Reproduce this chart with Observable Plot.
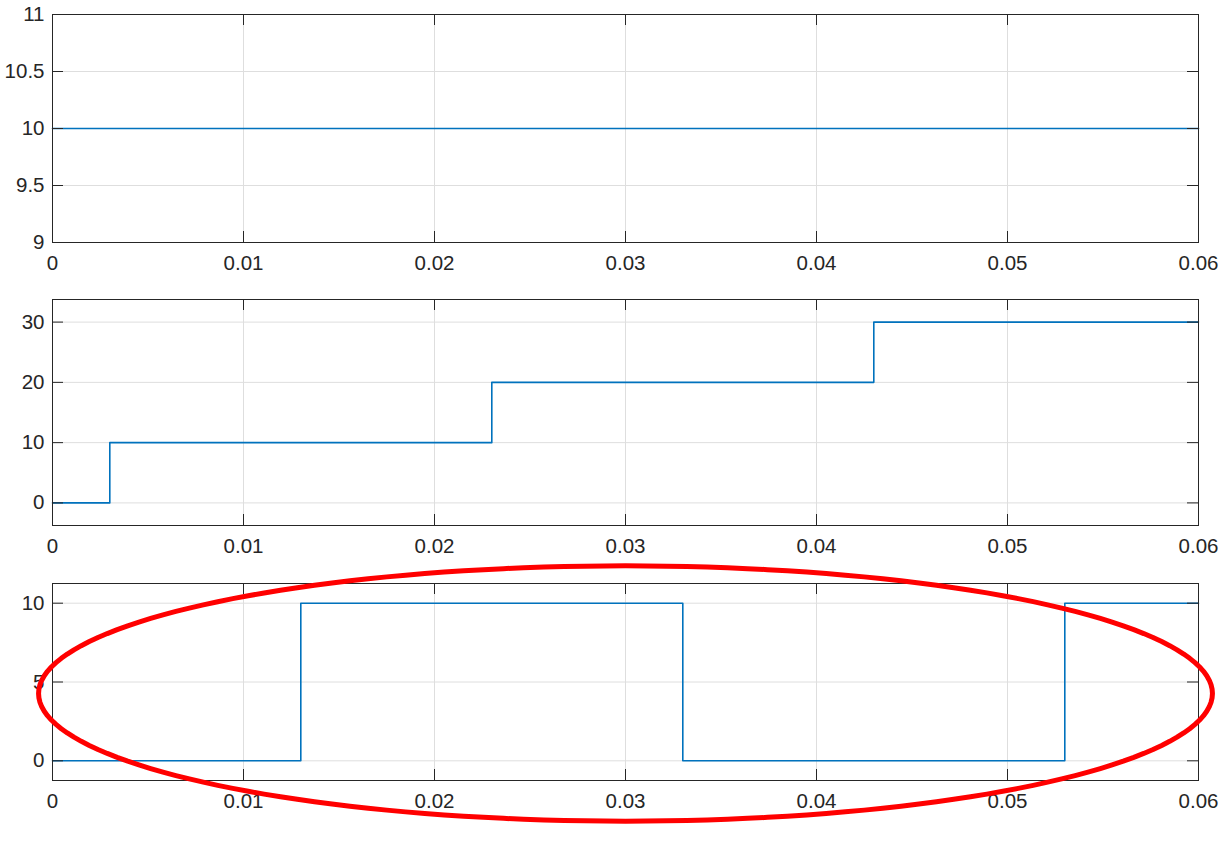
<!DOCTYPE html>
<html>
<head>
<meta charset="utf-8">
<script src="https://cdn.jsdelivr.net/npm/d3@7"></script>
<script src="https://cdn.jsdelivr.net/npm/@observablehq/plot@0.6"></script>
<style>
  html, body { margin: 0; padding: 0; background: #fff; }
  #wrap { position: relative; width: 1231px; height: 854px; overflow: hidden; }
  .panel { position: absolute; left: 0; }
  .panel svg { overflow: visible; background: transparent !important; }
</style>
</head>
<body>
<div id="wrap"></div>
<script>
// ---- data ----
const xTicks = [0, 0.01, 0.02, 0.03, 0.04, 0.05, 0.06];
const xTickLabels = ["0", "0.01", "0.02", "0.03", "0.04", "0.05", "0.06"];

const t1 = [0, 0.06];
const v1 = [10, 10];
const y1Ticks = [9, 9.5, 10, 10.5, 11];
const y1TickLabels = ["9", "9.5", "10", "10.5", "11"];

const t2 = [0, 0.003, 0.023, 0.043, 0.06];
const v2 = [0, 10, 20, 30, 30];
const y2Ticks = [0, 10, 20, 30];
const y2TickLabels = ["0", "10", "20", "30"];

const t3 = [0, 0.013, 0.033, 0.053, 0.06];
const v3 = [0, 10, 0, 10, 10];
const y3Ticks = [0, 5, 10];
const y3TickLabels = ["0", "5", "10"];

// red annotation ellipse (data coordinates of panel 3)
const ellipseCx = 0.03, ellipseCy = 4.27, ellipseRx = 0.03073, ellipseRy = 8.1;

// ---- styling ----
const W = 1231;
const lineColor = "#0072BD";
const axisColor = "#262626";
const gridColor = "#dedede";
const font = "'Liberation Sans', Arial, Helvetica, sans-serif";
const tickLen = 11;

function panel({top, height, marginTop, marginBottom, t, v, yDomain, yTicks, yLabels, extra = []}) {
  const data = t.map((x, i) => ({x, y: v[i]}));
  const [ymin, ymax] = yDomain;
  const plot = Plot.plot({
    width: W,
    height,
    marginLeft: 52,
    marginRight: 33,
    marginTop,
    marginBottom,
    style: {fontFamily: font, fontSize: "20.5px", color: axisColor, background: "transparent", overflow: "visible"},
    x: {domain: [0, 0.06]},
    y: {domain: yDomain},
    marks: [
      Plot.gridX(xTicks, {stroke: gridColor, strokeOpacity: 1}),
      Plot.gridY(yTicks, {stroke: gridColor, strokeOpacity: 1}),
      Plot.line(data, {x: "x", y: "y", curve: "step-after", stroke: lineColor, strokeWidth: 1.6}),
      Plot.frame({stroke: axisColor, strokeWidth: 1}),
      // inward ticks
      Plot.ruleX(xTicks, {x: d => d, y1: ymin, y2: ymin, insetTop: -tickLen, stroke: axisColor}),
      Plot.ruleX(xTicks, {x: d => d, y1: ymax, y2: ymax, insetBottom: -tickLen, stroke: axisColor}),
      Plot.ruleY(yTicks, {y: d => d, x1: 0, x2: 0, insetRight: -tickLen, stroke: axisColor}),
      Plot.ruleY(yTicks, {y: d => d, x1: 0.06, x2: 0.06, insetLeft: -tickLen, stroke: axisColor}),
      Plot.axisX(xTicks, {tickSize: 0, tickPadding: 13, fontSize: 20.5, tickFormat: (d) => xTickLabels[xTicks.indexOf(d)], fill: axisColor, label: null}),
      Plot.axisY(yTicks, {tickSize: 0, tickPadding: 8, fontSize: 20.5, tickFormat: (d) => yLabels[yTicks.indexOf(d)], fill: axisColor, label: null}),
      ...extra
    ]
  });
  const div = document.createElement("div");
  div.className = "panel";
  div.style.top = top + "px";
  div.appendChild(plot);
  document.getElementById("wrap").appendChild(div);
}

panel({top: 0, height: 285, marginTop: 14, marginBottom: 43, t: t1, v: v1, yDomain: [9, 11], yTicks: y1Ticks, yLabels: y1TickLabels});
panel({top: 285, height: 285, marginTop: 14, marginBottom: 45, t: t2, v: v2, yDomain: [-3.75, 33.75], yTicks: y2Ticks, yLabels: y2TickLabels});

const ellipsePts = d3.range(0, 361, 2).map(a => {
  const r = a * Math.PI / 180;
  return {x: ellipseCx + ellipseRx * Math.cos(r), y: ellipseCy + ellipseRy * Math.sin(r)};
});
panel({top: 570, height: 284, marginTop: 13, marginBottom: 74, t: t3, v: v3, yDomain: [-1.25, 11.25], yTicks: y3Ticks, yLabels: y3TickLabels,
  extra: [Plot.line(ellipsePts, {x: "x", y: "y", curve: "linear-closed", stroke: "#ff0000", strokeWidth: 5, clip: false})]});
</script>
</body>
</html>
